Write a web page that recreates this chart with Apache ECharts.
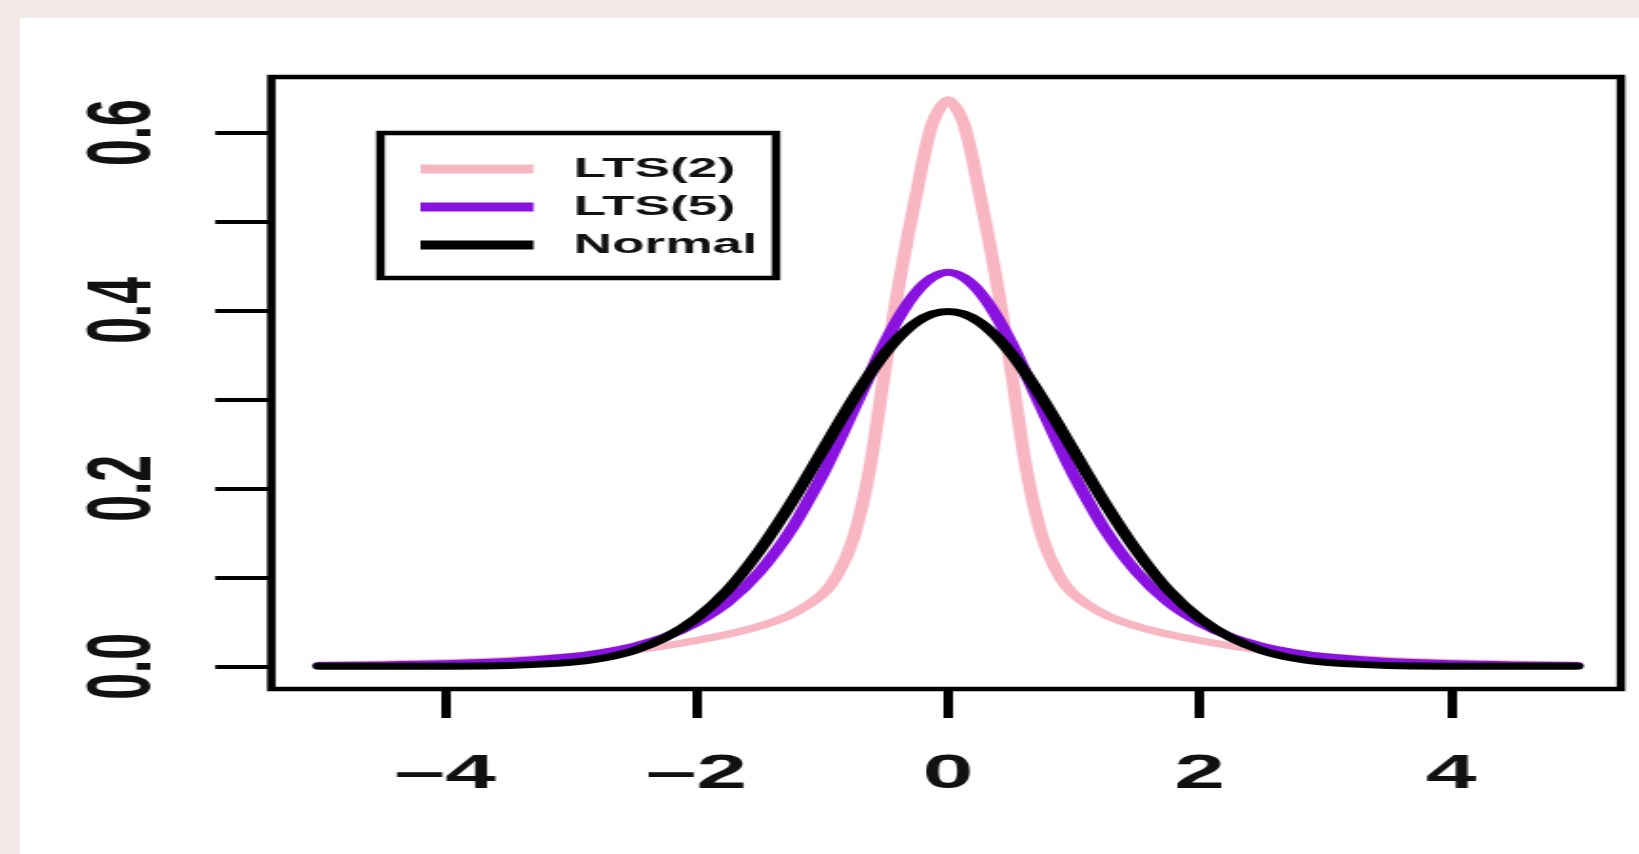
<!DOCTYPE html>
<html>
<head>
<meta charset="utf-8">
<script src="https://cdn.jsdelivr.net/npm/echarts@6/dist/echarts.min.js"></script>
<style>
  html, body { margin: 0; padding: 0; width: 1639px; height: 854px; overflow: hidden; background: #f2e8e7; }
  #paper { position: absolute; left: 20px; top: 18px; width: 1619px; height: 836px; background: #ffffff; }
  #chart { position: absolute; left: 0; top: 0; height: 854px; transform-origin: 0 0; }
</style>
</head>
<body>
<div id="paper"></div>
<div id="chart"></div>
<script>
// ---- data ----
const xValues = [-5, -4.5, -4, -3.5, -3, -2.75, -2.5, -2.25, -2, -1.75, -1.5, -1.25, -1, -0.875, -0.75, -0.625, -0.5, -0.375, -0.25, -0.125,
                 0, 0.125, 0.25, 0.375, 0.5, 0.625, 0.75, 0.875, 1, 1.25, 1.5, 1.75, 2, 2.25, 2.5, 2.75, 3, 3.5, 4, 4.5, 5];
// values at |x| = 0, .125, .25, .375, .5, .625, .75, .875, 1, 1.25, 1.5, 1.75, 2, 2.25, 2.5, 2.75, 3, 3.5, 4, 4.5, 5
const lts2Half = [0.637, 0.610, 0.532, 0.442, 0.335, 0.220, 0.145, 0.104, 0.081, 0.058, 0.045, 0.036, 0.029, 0.023, 0.018, 0.014, 0.011, 0.0068, 0.0042, 0.0026, 0.0016];
const lts5Half = [0.443, 0.437, 0.421, 0.396, 0.364, 0.327, 0.289, 0.251, 0.215, 0.153, 0.106, 0.072, 0.049, 0.033, 0.0225, 0.0155, 0.0108, 0.0054, 0.0029, 0.0016, 0.0009];
const normalHalf = [0.399, 0.396, 0.387, 0.372, 0.352, 0.328, 0.301, 0.272, 0.242, 0.183, 0.130, 0.086, 0.054, 0.032, 0.0175, 0.0091, 0.0044, 0.0009, 0.0001, 0.0, 0.0];
const seriesNames = ['LTS(2)', 'LTS(5)', 'Normal'];
const xTicks = [-4, -2, 0, 2, 4];
const yTicks = [0, 0.1, 0.2, 0.3, 0.4, 0.5, 0.6];
const yLabels = [0, 0.2, 0.4, 0.6];

// symmetric curves: left half mirrors right half (values read at |x|)
function mirror(half) {
  const left = half.slice(1).reverse();
  return left.concat(half);
}
function pairs(vals) { return xValues.map((x, i) => [x, vals[i]]); }

const S = 1.9;              // horizontal stretch of the reference picture
const W = 1639 / S;
const el = document.getElementById('chart');
el.style.width = W + 'px';
el.style.transform = 'scaleX(' + S + ')';

const chart = echarts.init(el, null, { renderer: 'canvas', width: W, height: 854 });
const font = '"Liberation Sans", Arial, sans-serif';
const colors = ['#F7B6C2', '#8A12E0', '#000000'];
const data = [mirror(lts2Half), mirror(lts5Half), mirror(normalHalf)];

chart.setOption({
  animation: false,
  backgroundColor: 'transparent',
  grid: {
    left: 271 / S, right: W - 1619 / S, top: 77, bottom: 165,
    show: true, borderColor: '#000', borderWidth: 4.5, backgroundColor: 'transparent'
  },
  legend: {
    orient: 'vertical',
    left: 380 / S, top: 133,
    data: seriesNames,
    icon: 'rect',
    itemWidth: 113 / S, itemHeight: 9,
    itemGap: 10,
    padding: [22, 10, 19, 21],
    borderColor: '#000', borderWidth: 4.5, backgroundColor: '#fff',
    textStyle: { fontFamily: font, fontWeight: 'bold', fontSize: 28, lineHeight: 28, color: '#111', padding: [0, 0, 0, 16] }
  },
  xAxis: {
    type: 'value', min: -5.38, max: 5.35,
    splitLine: { show: false },
    axisLine: { show: false, onZero: false },
    axisTick: { show: true, inside: false, length: 29, customValues: xTicks, lineStyle: { color: '#000', width: 5 } },
    axisLabel: { customValues: xTicks, margin: 62, fontFamily: font, fontWeight: 'bold', fontSize: 48, color: '#111',
      formatter: v => (v < 0 ? '\u2013' + Math.abs(v) : String(v)) }
  },
  yAxis: {
    type: 'value', min: -0.0255, max: 0.6625,
    splitLine: { show: false },
    axisLine: { show: false, onZero: false },
    axisTick: { show: true, inside: false, length: 56 / S, customValues: yTicks, lineStyle: { color: '#000', width: 4 } },
    axisLabel: { customValues: yLabels, rotate: 90, margin: 53, fontFamily: font, fontWeight: 'bold', fontSize: 48, color: '#111',
      formatter: v => v.toFixed(1) }
  },
  series: seriesNames.map((name, i) => ({
    name: name, type: 'line', data: pairs(data[i]), smooth: 0.3, showSymbol: false,
    lineStyle: { color: colors[i], width: 7, cap: 'round', join: 'round' }, itemStyle: { color: colors[i] }, z: 2 + i
  }))
});
</script>
</body>
</html>
